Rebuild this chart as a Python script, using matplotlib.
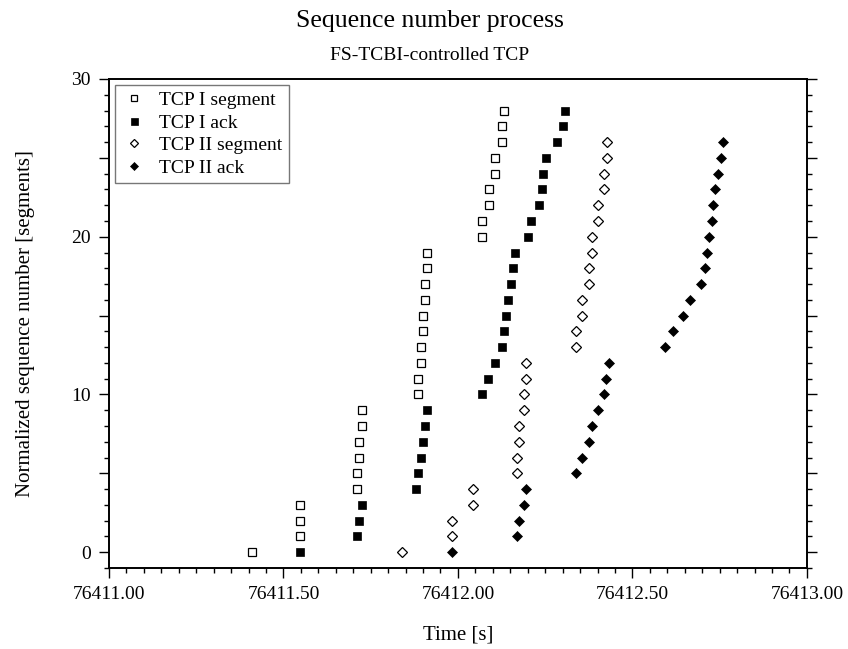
import matplotlib
matplotlib.use("Agg")
import matplotlib.pyplot as plt
from matplotlib.ticker import MultipleLocator, FuncFormatter

plt.rcParams["font.family"] = ["Liberation Serif", "DejaVu Serif"]

# TCP I segments: send time [s], normalized sequence number
seg1_t = [76411.411, 76411.547, 76411.547, 76411.547,
          76411.712, 76411.712, 76411.717, 76411.717, 76411.724, 76411.724,
          76411.887, 76411.887, 76411.893, 76411.893, 76411.899, 76411.899,
          76411.905, 76411.905, 76411.912, 76411.912,
          76412.070, 76412.070, 76412.089, 76412.089, 76412.106, 76412.106,
          76412.125, 76412.125, 76412.132]
seg1_n = list(range(29))

# TCP I acks
ack1_t = [76411.547,
          76411.712, 76411.717, 76411.724,
          76411.880, 76411.886, 76411.893, 76411.899, 76411.905, 76411.911,
          76412.070, 76412.087, 76412.106, 76412.126, 76412.132, 76412.138,
          76412.144, 76412.151, 76412.157, 76412.163,
          76412.201, 76412.208, 76412.233, 76412.240, 76412.244, 76412.252,
          76412.283, 76412.300, 76412.307]
ack1_n = list(range(29))

# TCP II segments
seg2_t = [76411.840, 76411.982, 76411.982, 76412.044, 76412.044,
          76412.168, 76412.168, 76412.176, 76412.176, 76412.189, 76412.189,
          76412.195, 76412.195,
          76412.338, 76412.338, 76412.357, 76412.357, 76412.376, 76412.376,
          76412.383, 76412.383, 76412.402, 76412.402, 76412.418, 76412.418,
          76412.427, 76412.427]
seg2_n = list(range(27))

# TCP II acks
ack2_t = [76411.982, 76412.168, 76412.176, 76412.189, 76412.195,
          76412.338, 76412.357, 76412.376, 76412.383, 76412.402, 76412.418,
          76412.423, 76412.433,
          76412.594, 76412.615, 76412.646, 76412.665, 76412.696, 76412.707,
          76412.713, 76412.720, 76412.727, 76412.732, 76412.738, 76412.746,
          76412.753, 76412.759]
ack2_n = list(range(27))


def main():
    fig = plt.figure(figsize=(8.48, 6.49), dpi=100)
    ax = fig.add_axes([0.1285, 0.1248, 0.823, 0.7535])

    ax.plot(seg1_t, seg1_n, ls="none", marker="s", ms=5.2, mfc="white",
            mec="black", mew=0.9, label="TCP I segment")
    ax.plot(ack1_t, ack1_n, ls="none", marker="s", ms=5.6, mfc="black",
            mec="black", mew=0.5, label="TCP I ack")
    ax.plot(seg2_t, seg2_n, ls="none", marker="D", ms=4.6, mfc="white",
            mec="black", mew=0.9, label="TCP II segment")
    ax.plot(ack2_t, ack2_n, ls="none", marker="D", ms=5.0, mfc="black",
            mec="black", mew=0.5, label="TCP II ack")

    ax.set_xlim(76411.0, 76413.0)
    ax.set_ylim(-1, 30)

    ax.xaxis.set_major_locator(MultipleLocator(0.5))
    ax.xaxis.set_minor_locator(MultipleLocator(0.05))
    ax.xaxis.set_major_formatter(FuncFormatter(lambda v, p: f"{v:.2f}"))
    ax.yaxis.set_major_locator(MultipleLocator(5))
    ax.yaxis.set_minor_locator(MultipleLocator(1))
    ax.yaxis.set_major_formatter(
        FuncFormatter(lambda v, p: f"{v:.0f}" if round(v) % 10 == 0 else ""))

    ax.tick_params(which="both", direction="out", top=False, right=True,
                   labelsize=14, width=1.0, colors="black")
    ax.tick_params(which="major", length=7, pad=6)
    ax.tick_params(which="minor", length=3.5)
    for s in ax.spines.values():
        s.set_linewidth(1.4)

    ax.set_xlabel("Time [s]", fontsize=15, labelpad=16)
    ax.set_ylabel("Normalized sequence number [segments]", fontsize=15,
                  labelpad=26)

    fig.text(0.507, 0.968, "Sequence number process", ha="center",
             va="center", fontsize=18.5)
    fig.text(0.507, 0.915, "FS-TCBI-controlled TCP", ha="center",
             va="center", fontsize=14)

    leg = ax.legend(loc="upper left", fontsize=14, frameon=True, fancybox=False,
                    borderaxespad=0.3, handletextpad=0.6, labelspacing=0.25,
                    borderpad=0.35, handlelength=1.3, markerscale=0.9)
    leg.get_frame().set_edgecolor("#555555")
    leg.get_frame().set_linewidth(1.0)

    fig.savefig("out.png", dpi=100)
    plt.close(fig)
    return 0


if __name__ == "__main__":
    raise SystemExit(main())
